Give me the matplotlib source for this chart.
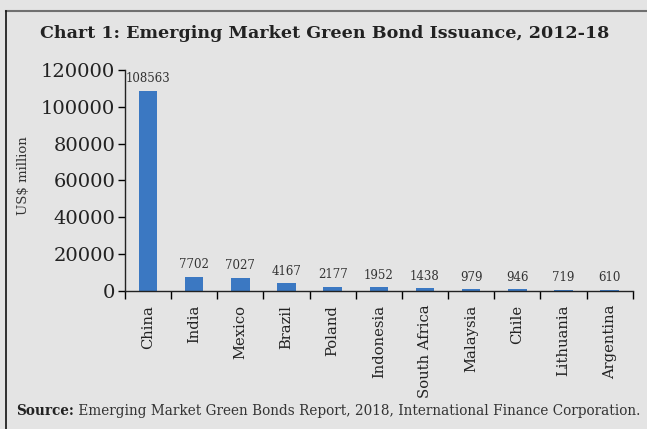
import matplotlib
matplotlib.use("Agg")
import matplotlib.pyplot as plt
from matplotlib.lines import Line2D

countries = ["China", "India", "Mexico", "Brazil", "Poland", "Indonesia",
             "South Africa", "Malaysia", "Chile", "Lithuania", "Argentina"]
issuance = [108563, 7702, 7027, 4167, 2177, 1952, 1438, 979, 946, 719, 610]
yticks = [0, 20000, 40000, 60000, 80000, 100000, 120000]

bg = "#e4e4e4"
bar_color = "#3b78c2"
plt.rcParams["font.family"] = "DejaVu Serif"

fig = plt.figure(figsize=(6.47, 4.29), dpi=100, facecolor=bg)
ax = fig.add_axes([0.193, 0.322, 0.785, 0.515], facecolor=bg)

x = list(range(len(countries)))
bars = ax.bar(x, issuance, width=0.4, color=bar_color)
for xi, v in zip(x, issuance):
    ax.annotate(str(v), (xi, v), xytext=(0, 4), textcoords="offset points",
                ha="center", va="bottom", fontsize=8.5, color="#333333")

ax.set_xlim(-0.5, len(countries) - 0.5)
ax.set_ylim(0, 120000)
ax.set_yticks(yticks)
ax.set_yticklabels([str(t) for t in yticks], fontsize=14, color="#222222")
ax.set_xticks(x)
ax.set_xticklabels(countries, rotation=90, fontsize=10.6, color="#222222")
ax.tick_params(axis="x", length=0, pad=10)
ax.set_xticks([i - 0.5 for i in range(len(countries) + 1)], minor=True)
ax.tick_params(axis="x", which="minor", length=6, width=1, direction="out")
ax.tick_params(axis="y", length=5, width=1, direction="out", pad=2)

for s in ["top", "right"]:
    ax.spines[s].set_visible(False)
for s in ["left", "bottom"]:
    ax.spines[s].set_linewidth(1)
    ax.spines[s].set_color("#222222")

ax.set_ylabel("US$ million", fontsize=9.5, color="#333333")
ax.yaxis.set_label_coords(-0.187, 0.52)

fig.text(0.062, 0.923, "Chart 1: Emerging Market Green Bond Issuance, 2012-18",
         fontsize=12.6, fontweight="bold", color="#222222", va="center")
src = fig.text(0.025, 0.042, "Source:", fontsize=9.8, fontweight="bold",
               color="#222222", va="center")
ax.annotate(" Emerging Market Green Bonds Report, 2018, International Finance Corporation.",
            xy=(1, 0.5), xycoords=src, ha="left", va="center",
            fontsize=9.8, color="#333333", annotation_clip=False)

# frame lines along the top and left edge
fig.add_artist(Line2D([0.009, 1.0], [0.974, 0.974], color="#707070", lw=1.5))
fig.add_artist(Line2D([0.009, 0.009], [0.0, 0.974], color="#111111", lw=1.2))

fig.savefig("out.png", dpi=100, facecolor=bg)
